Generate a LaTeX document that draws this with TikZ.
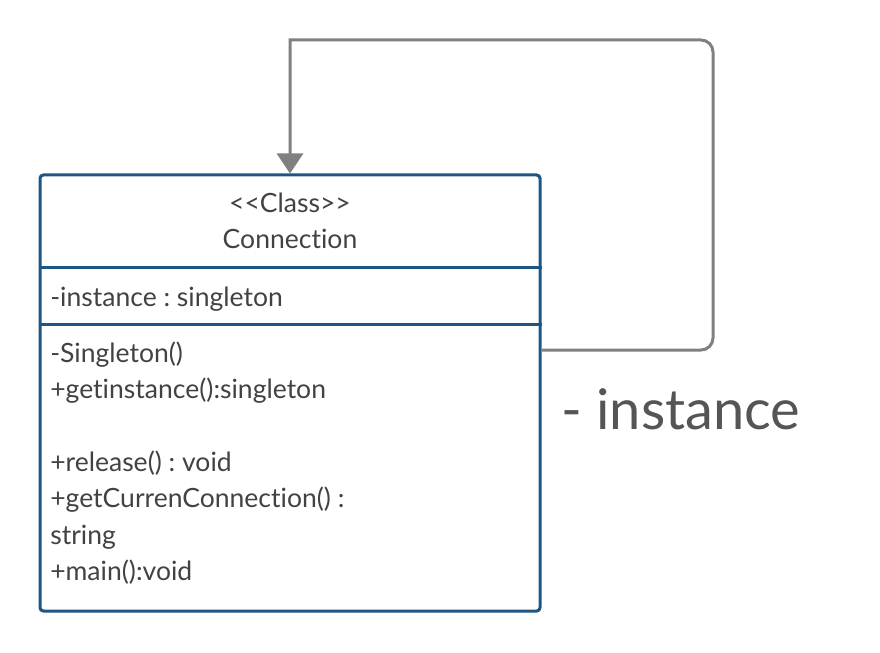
\documentclass[tikz,border=0pt]{standalone}
\usepackage{fontspec}
\usepackage{tikz}
\usetikzlibrary{arrows.meta,calc}
\newfontfamily\umlfont{Lato}[Ligatures = NoCommon]
\definecolor{boxblue}{HTML}{1F5582}
\definecolor{linkgray}{HTML}{808080}
\definecolor{textgray}{HTML}{424242}
\definecolor{rolegray}{HTML}{555555}

\tikzset{
  classbox/.style = {draw = boxblue, line width = 2.25pt, rounded corners = 2.5pt,
    minimum width = 375pt, minimum height = 327pt, inner sep = 0pt},
  umltext/.style = {font = \umlfont\fontsize{19.9}{24}\selectfont\frenchspacing, text = textgray, inner sep = 0pt},
  rolename/.style = {font = \umlfont\fontsize{42}{50}\selectfont, text = rolegray, inner sep = 0pt},
  selfassoc/.style = {draw = linkgray, line width = 2.25pt,
    -{Triangle[width = 19.5pt, length = 15pt]}},
}

\begin{document}
\begin{tikzpicture}[x = 0.75pt, y = -0.75pt]
        \useasboundingbox (0, 0) rectangle (880, 652);

        \node [classbox] (cls) at (290, 393) {};
        \draw [boxblue, line width = 2.25pt] (cls.west |- 0, 267) -- (cls.east |- 0, 267);
        \draw [boxblue, line width = 2.25pt] (cls.west |- 0, 324) -- (cls.east |- 0, 324);

        % class name
        \node [umltext, anchor = base] (stereo) at (290, 212) {<<Class>>};
        \node [umltext, anchor = base] (name) at (290, 248) {Connection};

        % attributes
        \node [umltext, anchor = base west] (attr) at (50, 306.5) {-instance : singleton};

        % operations
        \node [umltext, anchor = base west] (op1) at (50, 362) {-Singleton()};
        \node [umltext, anchor = base west] (op2) at (50, 398.5) {+getinstance():singleton};
        \node [umltext, anchor = base west] (op3) at (50, 471) {+release() : void};
        \node [umltext, anchor = base west] (op4) at (50, 507.5) {+getCurrenConnection() :};
        \node [umltext, anchor = base west] (op5) at (50, 544) {string};
        \node [umltext, anchor = base west] (op6) at (50, 580.5) {+main():void};

        % self association
        \coordinate (out) at ($(cls.east) + (0, -43)$);
        \draw [selfassoc] (out) [rounded corners = 9pt] -- (713, 350) -- (713, 40)
          [sharp corners] -- (290, 40) -- (cls.north);
        \node [rolename, anchor = base west] (role) at (561, 429) {- instance};
\end{tikzpicture}
\end{document}
